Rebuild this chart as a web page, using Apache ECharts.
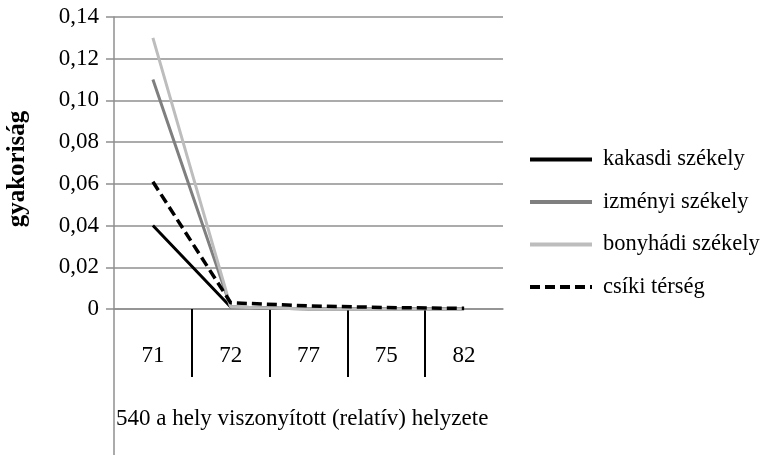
<!DOCTYPE html>
<html>
<head>
<meta charset="utf-8">
<script src="https://cdn.jsdelivr.net/npm/echarts@6/dist/echarts.min.js"></script>
<style>
  html, body { margin: 0; padding: 0; background: #fff; }
  #chart1 { width: 766px; height: 457px; }
</style>
</head>
<body>
<div id="chart1"></div>
<script>
var categories = ["71", "72", "77", "75", "82"]
var seriesNames = ["kakasdi székely", "izményi székely", "bonyhádi székely", "csíki térség"]
var kakasdi = [0.040, 0.001, 0, 0, 0]
var izmenyi = [0.110, 0.001, 0, 0, 0]
var bonyhadi = [0.130, 0.001, 0, 0, 0]
var csiki = [0.061, 0.003, 0.0015, 0.0007, 0.0003]
// boundary slots between categories (for the separator ticks)
var boundaries = categories.concat([""]).map(function () { return "" })

var font = "'Liberation Serif', 'Times New Roman', serif"
var gridColor = "#8f8f8f"

var chart = echarts.init(document.querySelector("#chart1"))

function lineSeries(name, data, color, dashed) {
    return {
        name: name,
        type: "line",
        data: data,
        symbol: "none",
        smooth: false,
        lineStyle: {
            color: color,
            width: dashed ? 3.5 : 3,
            type: dashed ? [10, 5] : "solid",
        },
        itemStyle: { color: color },
    }
}

var option = {
    animation: false,
    textStyle: { fontFamily: font },
    title: {
        text: "540 a hely viszonyított (relatív) helyzete",
        left: 116,
        top: 407,
        padding: 0,
        textStyle: { fontFamily: font, fontSize: 23, fontWeight: "normal", color: "#000" },
    },
    grid: { left: 114, top: 17, width: 389, height: 292, containLabel: false, outerBoundsMode: "none" },
    legend: {
        orient: "vertical",
        left: 528,
        top: 148,
        padding: 0,
        itemWidth: 62,
        itemHeight: 14,
        itemGap: 19.5,
        data: seriesNames,
        itemStyle: { opacity: 0 },
        lineStyle: { width: 4 },
        textStyle: { fontFamily: font, fontSize: 22.5, color: "#000", padding: [0, 0, 0, 6] },
    },
    xAxis: [{
        type: "category",
        data: categories,
        boundaryGap: true,
        axisLine: { lineStyle: { color: gridColor, width: 1.5 } },
        axisTick: { show: false },
        axisLabel: { margin: 35, fontFamily: font, fontSize: 23, color: "#000" },
    }, {
        type: "category",
        data: boundaries,
        boundaryGap: false,
        position: "bottom",
        axisLine: { show: false },
        axisLabel: { show: false },
        axisTick: {
            show: true,
            interval: function (index) { return index > 0 && index < boundaries.length - 1 },
            length: 68,
            lineStyle: { color: "#000", width: 2 },
        },
    }, {
        type: "category",
        data: boundaries,
        boundaryGap: false,
        position: "bottom",
        axisLine: { show: false },
        axisLabel: { show: false },
        axisTick: {
            show: true,
            interval: function (index) { return index === 0 },
            length: 146,
            lineStyle: { color: gridColor, width: 1.5 },
        },
    }],
    yAxis: {
        type: "value",
        min: 0,
        max: 0.14,
        interval: 0.02,
        name: "gyakoriság",
        nameLocation: "middle",
        nameRotate: 90,
        nameGap: 84,
        nameTextStyle: { fontFamily: font, fontSize: 25, fontWeight: "bold", color: "#000", padding: [0, 12, 0, 0] },
        axisLine: { show: true, lineStyle: { color: gridColor, width: 1.5 } },
        axisTick: { show: true, length: 8, lineStyle: { color: gridColor, width: 1.5 } },
        splitLine: { lineStyle: { color: gridColor, width: 1.5 } },
        axisLabel: {
            margin: 15,
            fontFamily: font,
            fontSize: 23,
            color: "#000",
            formatter: function (v) { return v === 0 ? "0" : v.toFixed(2).replace(".", ",") },
        },
    },
    series: [
        lineSeries(seriesNames[0], kakasdi, "#000000", false),
        lineSeries(seriesNames[1], izmenyi, "#7f7f7f", false),
        lineSeries(seriesNames[2], bonyhadi, "#bdbdbd", false),
        lineSeries(seriesNames[3], csiki, "#000000", true),
    ],
}

chart.setOption(option)
</script>
</body>
</html>
